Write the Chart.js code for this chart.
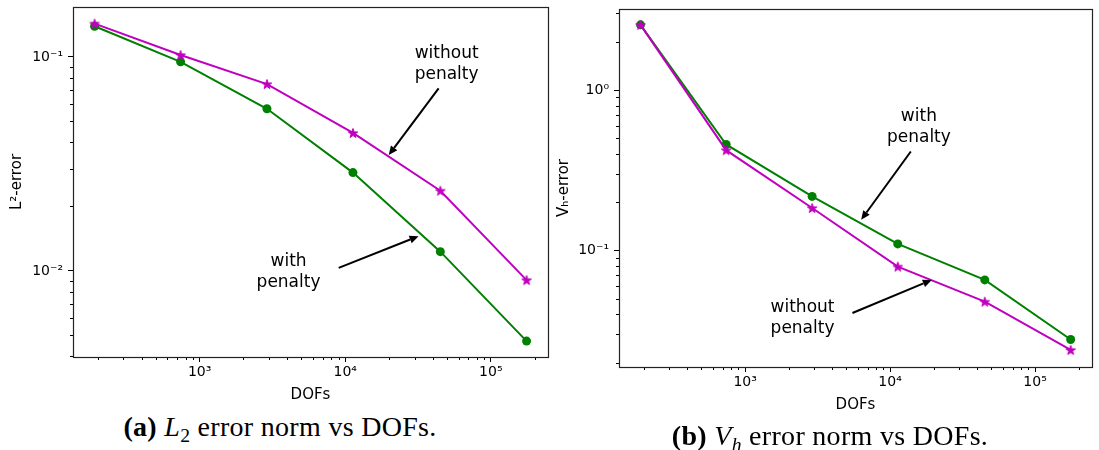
<!DOCTYPE html>
<html>
<head>
<meta charset="utf-8">
<script src="https://cdn.jsdelivr.net/npm/chart.js@4.4.0/dist/chart.umd.min.js"></script>
<style>
  body { margin: 0; background: #fff; width: 1099px; height: 450px; overflow: hidden; position: relative; }
  #boxA { position: absolute; left: 0; top: 0; width: 560px; height: 410px; }
  #boxB { position: absolute; left: 550px; top: 0; width: 549px; height: 420px; }
  .cap { position: absolute; font-family: "Liberation Serif", serif; font-size: 28px; line-height: 32px;
         letter-spacing: 0.3px; white-space: nowrap; transform: translateX(-50%); color: #000; }
  .cap b { font-weight: 600; }
  .cap sub { font-size: 0.7em; vertical-align: -0.3em; line-height: 0; }
</style>
</head>
<body>
<div id="boxA"><canvas id="chartA"></canvas></div>
<div id="boxB"><canvas id="chartB"></canvas></div>
<div class="cap" style="left:280px; top:411px"><b>(a)</b> <i>L</i><sub>2</sub> error norm vs DOFs.</div>
<div class="cap" style="left:830px; top:420px"><b>(b)</b> <i>V</i><sub><i>h</i></sub> error norm vs DOFs.</div>
<script>
// degrees of freedom (x) for every refinement level
const dofs = [190, 740, 2900, 11300, 45000, 176000];

// (a) L2 error
const l2With    = [0.139, 0.0948, 0.0572, 0.0288, 0.0123, 0.0047];
const l2Without = [0.143, 0.102, 0.0746, 0.0441, 0.0237, 0.00906];

// (b) Vh error
const vhWith    = [2.55, 0.458, 0.2175, 0.110, 0.0656, 0.0279];
const vhWithout = [2.55, 0.422, 0.184, 0.0794, 0.048, 0.024];

// labelled decades
const xDecades  = [1e3, 1e4, 1e5];
const l2Decades = [1e-2, 1e-1];
const vhDecades = [1e-1, 1e0];

const FONT = 'DejaVu Sans';
const GREEN = '#008000';
const MAGENTA = '#bf00bf';

const SUP = {'-': '⁻', '0': '⁰', '1': '¹', '2': '²', '3': '³', '4': '⁴', '5': '⁵', '6': '⁶', '7': '⁷', '8': '⁸', '9': '⁹'};
function decLabel(v) {
  const e = String(Math.round(Math.log10(v)));
  return '10' + e.split('').map(c => SUP[c]).join('');
}
function isIn(v, list) {
  return list.some(d => Math.abs(Math.log10(d) - Math.log10(v)) < 1e-9);
}

// all 1..9 x 10^n values inside a range
function logTicks(min, max) {
  const out = [];
  for (let e = Math.floor(Math.log10(min)); e <= Math.ceil(Math.log10(max)); e++) {
    for (let m = 1; m <= 9; m++) {
      const v = parseFloat((m * Math.pow(10, e)).toPrecision(6));
      if (v >= min && v <= max) out.push(v);
    }
  }
  return out;
}

// filled star marker like matplotlib '*'
function starImage(color) {
  const c = document.createElement('canvas');
  c.width = c.height = 12;
  const g = c.getContext('2d');
  g.beginPath();
  for (let k = 0; k < 10; k++) {
    const r = k % 2 ? 2 : 5;
    const a = -Math.PI / 2 + k * Math.PI / 5;
    g.lineTo(6 + r * Math.cos(a), 6.5 + r * Math.sin(a));
  }
  g.closePath();
  g.fillStyle = color;
  g.fill();
  g.strokeStyle = color;
  g.lineWidth = 1;
  g.stroke();
  return c;
}
const star = starImage(MAGENTA);

// frame, minor ticks and the text/arrow notes
const decor = {
  id: 'decor',
  afterDraw(chart, args, opts) {
    const ctx = chart.ctx;
    const a = chart.chartArea;
    const sx = chart.scales.x, sy = chart.scales.y;
    ctx.save();
    ctx.strokeStyle = '#000';
    ctx.lineWidth = 1;
    // minor ticks
    ctx.beginPath();
    opts.xMinor.forEach(v => {
      const p = Math.round(sx.getPixelForValue(v)) + 0.5;
      ctx.moveTo(p, a.bottom); ctx.lineTo(p, a.bottom + 3);
    });
    opts.yMinor.forEach(v => {
      const p = Math.round(sy.getPixelForValue(v)) + 0.5;
      ctx.moveTo(a.left, p); ctx.lineTo(a.left - 3, p);
    });
    ctx.stroke();
    // frame
    ctx.strokeStyle = '#222';
    ctx.lineWidth = 1.2;
    ctx.strokeRect(Math.round(a.left) + 0.5, Math.round(a.top) + 0.5,
                   Math.round(a.right - a.left), Math.round(a.bottom - a.top));
    // notes
    ctx.fillStyle = '#000';
    ctx.strokeStyle = '#000';
    ctx.font = '17px "' + FONT + '"';
    ctx.textAlign = 'center';
    ctx.textBaseline = 'middle';
    opts.notes.forEach(n => {
      const x = sx.getPixelForValue(n.x), y = sy.getPixelForValue(n.y);
      n.lines.forEach((t, i) => ctx.fillText(t, x, y + (i - (n.lines.length - 1) / 2) * 21));
    });
    opts.arrows.forEach(r => {
      const x0 = sx.getPixelForValue(r.x0), y0 = sy.getPixelForValue(r.y0);
      const x1 = sx.getPixelForValue(r.x1), y1 = sy.getPixelForValue(r.y1);
      const ang = Math.atan2(y1 - y0, x1 - x0);
      const hl = 9, hw = 4;
      const bx = x1 - hl * Math.cos(ang), by = y1 - hl * Math.sin(ang);
      ctx.lineWidth = 2;
      ctx.beginPath();
      ctx.moveTo(x0, y0); ctx.lineTo(bx, by);
      ctx.stroke();
      ctx.beginPath();
      ctx.moveTo(x1, y1);
      ctx.lineTo(bx + hw * Math.sin(ang), by - hw * Math.cos(ang));
      ctx.lineTo(bx - hw * Math.sin(ang), by + hw * Math.cos(ang));
      ctx.closePath();
      ctx.fill();
    });
    ctx.restore();
  }
};

function zeroPad(s) {
  s.paddingTop = 0; s.paddingBottom = 0; s.paddingLeft = 0; s.paddingRight = 0;
}

function build(id, c) {
  const xAll = logTicks(c.xMin, c.xMax);
  const yAll = logTicks(c.yMin, c.yMax);
  return new Chart(document.getElementById(id), {
    type: 'line',
    data: {
      datasets: [
        {
          data: dofs.map((x, i) => ({x: x, y: c.without[i]})),
          borderColor: MAGENTA, backgroundColor: MAGENTA, borderWidth: 2,
          pointStyle: star, pointRadius: 5
        },
        {
          data: dofs.map((x, i) => ({x: x, y: c.with[i]})),
          borderColor: GREEN, backgroundColor: GREEN, borderWidth: 2,
          pointStyle: 'circle', pointRadius: 4.5, pointBorderWidth: 0
        }
      ]
    },
    options: {
      responsive: true,
      maintainAspectRatio: false,
      animation: false,
      events: [],
      layout: {padding: c.pad},
      plugins: {
        legend: {display: false},
        tooltip: {enabled: false},
        decor: {
          xMinor: xAll.filter(v => !isIn(v, xDecades)),
          yMinor: yAll.filter(v => !isIn(v, c.decades)),
          notes: c.notes,
          arrows: c.arrows
        }
      },
      scales: {
        x: {
          type: 'logarithmic', min: c.xMin, max: c.xMax,
          afterBuildTicks: s => { s.ticks = xAll.map(v => ({value: v})); },
          afterFit: s => { s.height = c.xH; zeroPad(s); },
          border: {display: false},
          grid: {drawOnChartArea: false, tickLength: 5, tickColor: '#000', tickWidth: 1},
          ticks: {
            autoSkip: false, maxRotation: 0, padding: 2, color: '#000',
            font: {family: FONT, size: 14},
            callback: v => isIn(v, xDecades) ? decLabel(v) : null
          },
          title: {display: true, text: 'DOFs', color: '#000', font: {family: FONT, size: 15},
                  padding: {top: 0, bottom: c.xTitlePad}}
        },
        y: {
          type: 'logarithmic', min: c.yMin, max: c.yMax,
          afterBuildTicks: s => { s.ticks = yAll.map(v => ({value: v})); },
          afterFit: s => { s.width = c.yW; zeroPad(s); },
          border: {display: false},
          grid: {drawOnChartArea: false, tickLength: 5, tickColor: '#000', tickWidth: 1},
          ticks: {
            autoSkip: false, padding: 5, color: '#000',
            font: {family: FONT, size: 14},
            callback: v => isIn(v, c.decades) ? decLabel(v) : null
          },
          title: {display: true, text: c.yTitle, color: '#000', font: {family: FONT, size: 15},
                  padding: {top: c.yTitlePad, bottom: c.yTitlePad}}
        }
      }
    },
    plugins: [decor]
  });
}

build('chartA', {
  with: l2With, without: l2Without, decades: l2Decades,
  xMin: 135, xMax: 247000, yMin: 0.00396, yMax: 0.171,
  pad: {top: 5, right: 12, left: 0, bottom: 0},
  xH: 53, yW: 73, xTitlePad: 6, yTitlePad: 8,
  yTitle: 'L²-error',
  notes: [
    {x: 49700, y: 0.093, lines: ['without', 'penalty']},
    {x: 4080, y: 0.0099, lines: ['with', 'penalty']}
  ],
  arrows: [
    {x0: 43800, y0: 0.0713, x1: 19900, y1: 0.0348},
    {x0: 9020, y0: 0.01033, x1: 31900, y1: 0.01452}
  ]
});

build('chartB', {
  with: vhWith, without: vhWithout, decades: vhDecades,
  xMin: 135, xMax: 247000, yMin: 0.0188, yMax: 3.2,
  pad: {top: 9, right: 5, left: 0, bottom: 0},
  xH: 53, yW: 69, xTitlePad: 6, yTitlePad: 5,
  yTitle: 'Vₕ-error',
  notes: [
    {x: 15800, y: 0.589, lines: ['with', 'penalty']},
    {x: 2490, y: 0.038, lines: ['without', 'penalty']}
  ],
  arrows: [
    {x0: 13900, y0: 0.414, x1: 6320, y1: 0.1555},
    {x0: 5500, y0: 0.0408, x1: 19400, y1: 0.0656}
  ]
});
</script>
</body>
</html>
